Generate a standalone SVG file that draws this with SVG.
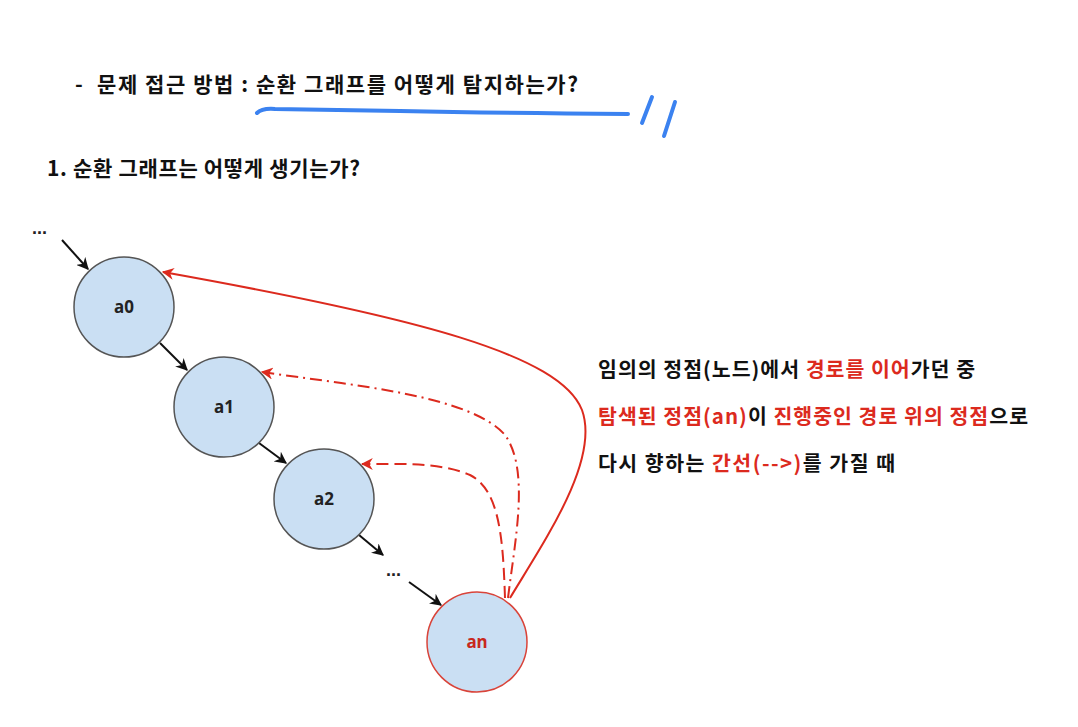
<svg xmlns="http://www.w3.org/2000/svg" width="1078" height="727" viewBox="0 0 1078 727">
<defs>
<style>
.t{font-family:"Noto Sans CJK KR","Noto Sans",sans-serif;font-weight:700;fill:#111}
.r{fill:#dc2a1e}
.node{fill:#cadff3;stroke:#555;stroke-width:1.5}
.lbl{font-family:"Noto Sans","Liberation Sans",sans-serif;font-weight:700;font-size:17px;fill:#222;text-anchor:middle}
.blk{stroke:#111;stroke-width:2;fill:none;marker-end:url(#ab)}
.red{stroke:#dc2a1e;stroke-width:2;fill:none;marker-end:url(#ar)}
.blue{stroke:#3b82f0;stroke-width:4;fill:none;stroke-linecap:round}
.dots{font-family:"Liberation Sans",sans-serif;font-size:18px;font-weight:700;fill:#222}
</style>
<marker id="ab" viewBox="0 0 10 10" refX="9" refY="5" markerWidth="6" markerHeight="6" orient="auto" markerUnits="strokeWidth"><path d="M0,0 L10,5 L0,10 L3,5 Z" fill="#111"/></marker>
<marker id="ar" viewBox="0 0 10 10" refX="9" refY="5" markerWidth="6" markerHeight="6" orient="auto" markerUnits="strokeWidth"><path d="M0,0 L10,5 L0,10 L3,5 Z" fill="#dc2a1e"/></marker>
</defs>
<rect width="1078" height="727" fill="#fff"/>

<g id="title">
<text class="t" font-size="21" x="75" y="92">-</text>
<text class="t" font-size="21" x="97" y="92" textLength="481" lengthAdjust="spacing">문제 접근 방법 : 순환 그래프를 어떻게 탐지하는가?</text>
<path class="blue" d="M257,113 Q262,108 275,109 L400,111 Q500,113 628,114"/>
<path class="blue" d="M652,97 L642,123"/>
<path class="blue" d="M675,102 L664,136"/>
</g>

<g id="subtitle">
<text class="t" font-size="21" x="47" y="176" textLength="313" lengthAdjust="spacing">1. 순환 그래프는 어떻게 생기는가?</text>
</g>

<g id="description">
<text class="t" font-size="20.5" x="598" y="377" textLength="377" lengthAdjust="spacing">임의의 정점(노드)에서 <tspan class="r">경로를 이어</tspan>가던 중</text>
<text class="t" font-size="20.5" x="598" y="424" textLength="430" lengthAdjust="spacing"><tspan class="r">탐색된 정점(an)</tspan>이 <tspan class="r">진행중인 경로 위의 정점</tspan>으로</text>
<text class="t" font-size="20.5" x="598" y="471" textLength="297" lengthAdjust="spacing">다시 향하는 <tspan class="r">간선(--&gt;)</tspan>를 가질 때</text>
</g>

<g id="connectors">
<text class="dots" x="32" y="234">...</text>
<text class="dots" x="386" y="576">...</text>
<path class="blk" d="M62,240 L88,269"/>
<path class="blk" d="M160,343 L187,370"/>
<path class="blk" d="M259,443 L286,463"/>
<path class="blk" d="M359,535 L383,555"/>
<path class="blk" d="M409,582 L441,605"/>
<path class="red" d="M510,598 C545,540 600,460 582,410 C560,355 420,318 163,272"/>
<path class="red" stroke-dasharray="12 5 2 5" d="M508,598 C515,540 530,470 505,435 C470,395 350,385 262,372"/>
<path class="red" stroke-dasharray="12 6" d="M505,598 C503,540 500,490 470,475 C440,462 400,464 362,464"/>
</g>

<g id="a0"><circle class="node" cx="124" cy="307" r="50"/><text class="lbl" x="124" y="313">a0</text></g>
<g id="a1"><circle class="node" cx="224" cy="407" r="50"/><text class="lbl" x="224" y="413">a1</text></g>
<g id="a2"><circle class="node" cx="324" cy="499" r="50"/><text class="lbl" x="324" y="505">a2</text></g>
<g id="an"><circle class="node" style="stroke:#d9443a" cx="477" cy="642" r="50"/><text class="lbl" style="fill:#c8281c" x="477" y="648">an</text></g>
</svg>
